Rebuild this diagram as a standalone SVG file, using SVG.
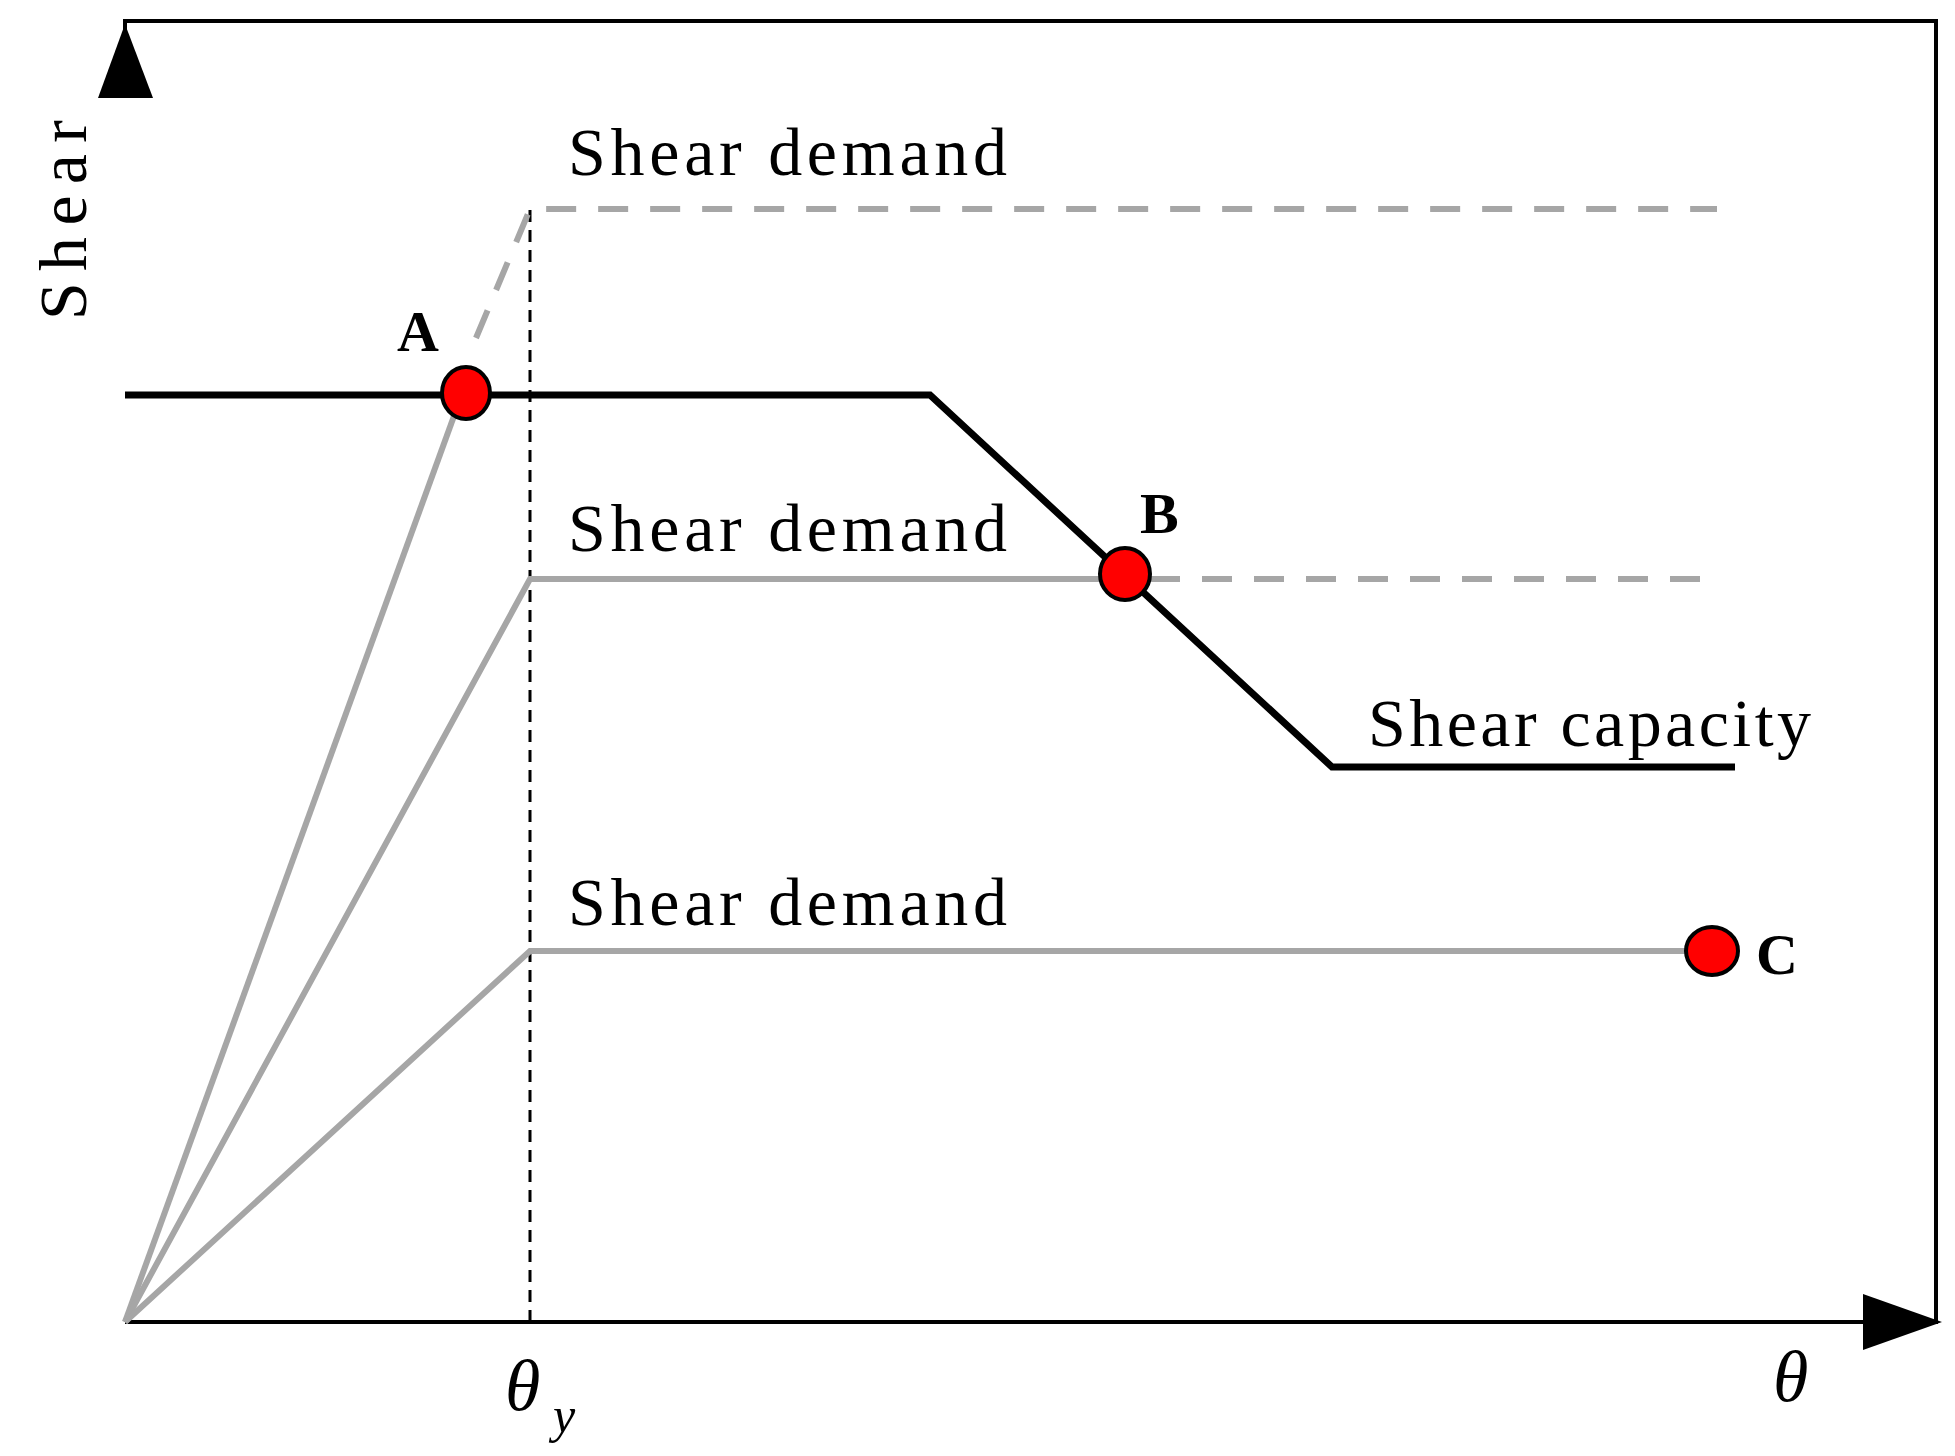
<svg xmlns="http://www.w3.org/2000/svg" width="1955" height="1456" viewBox="0 0 1955 1456">
<style>
.t{font-family:"Liberation Serif","DejaVu Serif",serif;font-size:68px;fill:#000}
.b{font-family:"Liberation Serif",serif;font-size:58px;font-weight:bold}
.i{font-family:"Liberation Serif",serif;font-style:italic}
.g{stroke:#a6a6a6;stroke-width:6;fill:none}
.d{stroke-dasharray:30,22}
.k{stroke:#000;stroke-width:7;fill:none}
.p{fill:#f00;stroke:#000;stroke-width:4}
</style>
<rect width="1955" height="1456" fill="#fff"/>
<g id="axes">
<polyline points="125,98 125,21 1936,21 1936,1322 1863,1322" fill="none" stroke="#000" stroke-width="4"/>
<line x1="125" y1="1322" x2="1863" y2="1322" stroke="#000" stroke-width="4"/>
<polygon points="125,24 98,98 153,98"/>
<polygon points="1942,1322 1863,1294 1863,1350"/>
<line x1="530" y1="210" x2="530" y2="1322" stroke="#000" stroke-width="3" stroke-dasharray="12,8"/>
</g>
<g id="connectors">
<polyline class="g d" points="476,338 530,209 1717,209"/>
<line class="g" x1="125" y1="1322" x2="458" y2="405"/>
<polyline class="g" points="125,1322 530,579 1125,579"/>
<line class="g d" x1="1150" y1="579" x2="1717" y2="579"/>
<polyline class="g" points="125,1322 530,951 1712,951"/>
<polyline class="k" points="125,395 930,395 1332,767 1735,767"/>
</g>
<g id="points">
<ellipse class="p" cx="466" cy="393" rx="24" ry="26"/>
<ellipse class="p" cx="1125" cy="574" rx="25" ry="26"/>
<ellipse class="p" cx="1712" cy="951" rx="26" ry="24"/>
</g>
<g id="labels">
<text class="t" x="568" y="175" textLength="439">Shear demand</text>
<text class="t" x="568" y="551" textLength="439">Shear demand</text>
<text class="t" x="568" y="925" textLength="439">Shear demand</text>
<text class="t" x="1368" y="746" textLength="443">Shear capacity</text>
<text class="t" transform="translate(86,320) rotate(-90)" textLength="200">Shear</text>
<text class="b" x="397" y="351">A</text>
<text class="b" x="1140" y="533">B</text>
<text class="b" x="1756" y="974">C</text>
<text class="i" x="505" y="1410" font-size="72">θ</text>
<text class="i" x="553" y="1432" font-size="50">y</text>
<text class="i" x="1773" y="1401" font-size="72">θ</text>
</g>
</svg>
